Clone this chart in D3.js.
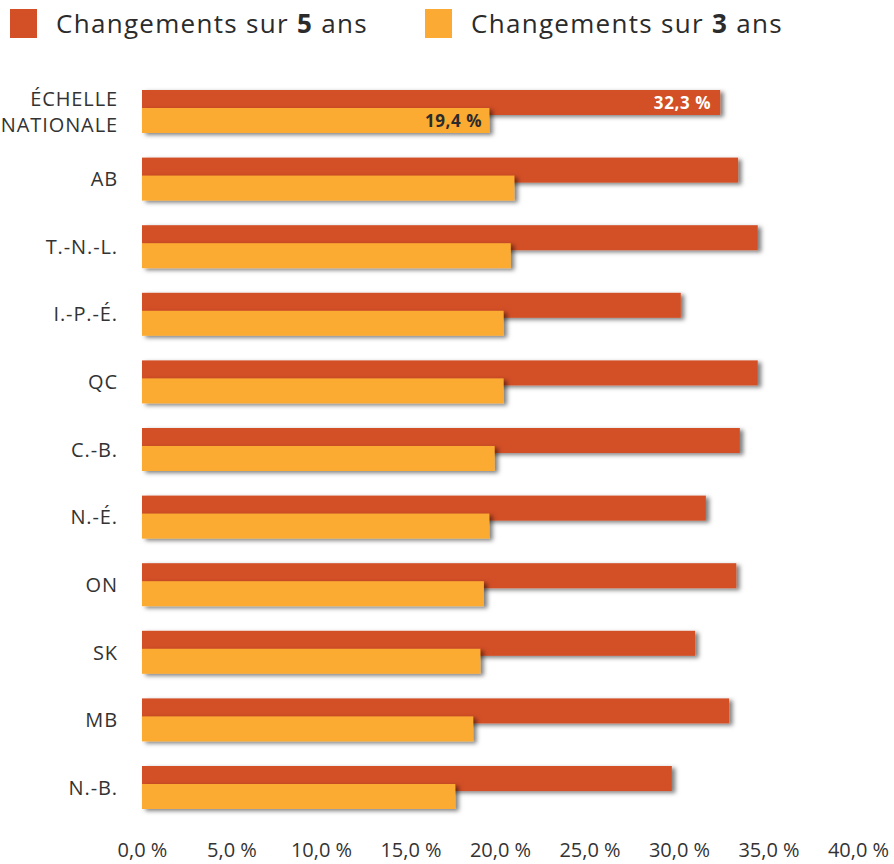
<!DOCTYPE html>
<html>
<head>
<meta charset="utf-8">
<script src="https://cdn.jsdelivr.net/npm/d3@7"></script>
<style>
  html, body { margin: 0; padding: 0; background: #fff; }
  svg { display: block; font-family: "Open Sans", sans-serif; }
</style>
</head>
<body>
<svg id="chart" width="894" height="864"></svg>
<script>
// --- data ---
const categories = ["ÉCHELLE NATIONALE", "AB", "T.-N.-L.", "I.-P.-É.", "QC", "C.-B.", "N.-É.", "ON", "SK", "MB", "N.-B."];
const change5yr = [32.3, 33.3, 34.4, 30.1, 34.4, 33.4, 31.5, 33.2, 30.9, 32.8, 29.6];
const change3yr = [19.4, 20.8, 20.6, 20.2, 20.2, 19.7, 19.4, 19.1, 18.9, 18.5, 17.5];
const tickValues = [0, 5, 10, 15, 20, 25, 30, 35, 40];
const seriesNames = [["Changements sur ", "5", " ans"], ["Changements sur ", "3", " ans"]];
const seriesColors = ["#D35027", "#FBAA33"];
const labelledCategory = "ÉCHELLE NATIONALE";

const fmt = v => d3.format(".1f")(v).replace(".", ",") + " %";

const svg = d3.select("#chart");

const defs = svg.append("defs");
defs.append("filter")
    .attr("id", "shadow")
    .attr("x", "-10%").attr("y", "-60%").attr("width", "125%").attr("height", "220%")
  .append("feDropShadow")
    .attr("dx", 3.5).attr("dy", 2)
    .attr("stdDeviation", 2.3)
    .attr("flood-color", "#000")
    .attr("flood-opacity", 0.5);

// --- scales ---
const x = d3.scaleLinear().domain([0, 40]).range([142, 858]);
const y = d3.scaleBand()
    .domain(categories)
    .range([90, 809])
    .paddingInner(0.364)
    .paddingOuter(0);

const barH = 25;
const offset = y.bandwidth() - barH;

// --- legend ---
const legend = svg.append("g");
const legendX = [10, 425];
seriesNames.forEach((parts, i) => {
  legend.append("rect")
      .attr("x", legendX[i]).attr("y", 9)
      .attr("width", 27).attr("height", 29)
      .attr("fill", seriesColors[i]);
  const t = legend.append("text")
      .attr("x", legendX[i] + 46).attr("y", 33)
      .attr("font-size", 26)
      .attr("letter-spacing", 1.3)
      .attr("fill", "#2b2b2b");
  t.append("tspan").text(parts[0]);
  t.append("tspan").attr("font-weight", 700).text(parts[1]);
  t.append("tspan").text(parts[2]);
});

// --- bars ---
const rows = categories.map((c, i) => ({ cat: c, v5: change5yr[i], v3: change3yr[i] }));

const g = svg.append("g");

rows.forEach(d => {
  const y0 = y(d.cat);
  g.append("rect")
      .attr("x", x(0)).attr("y", y0)
      .attr("width", x(d.v5) - x(0)).attr("height", barH)
      .attr("fill", seriesColors[0])
      .attr("filter", "url(#shadow)");
  g.append("rect")
      .attr("x", x(0)).attr("y", y0 + offset)
      .attr("width", x(d.v3) - x(0)).attr("height", barH)
      .attr("fill", seriesColors[1])
      .attr("filter", "url(#shadow)");

  if (d.cat === labelledCategory) {
    g.append("text")
        .attr("x", x(d.v5) - 9).attr("y", y0 + 19)
        .attr("text-anchor", "end")
        .attr("font-size", 17).attr("font-weight", 700)
        .attr("letter-spacing", 0.6)
        .attr("fill", "#fff")
        .text(fmt(d.v5));
    g.append("text")
        .attr("x", x(d.v3) - 7).attr("y", y0 + offset + 19)
        .attr("text-anchor", "end")
        .attr("font-size", 17).attr("font-weight", 700)
        .attr("letter-spacing", 0.6)
        .attr("fill", "#2b2b2b")
        .text(fmt(d.v3));
  }
});

// --- category labels ---
const labels = svg.append("g")
    .attr("font-size", 20)
    .attr("letter-spacing", 0.9)
    .attr("fill", "#333")
    .attr("text-anchor", "end");

categories.forEach(c => {
  const words = c.split(" ");
  const mid = y(c) + y.bandwidth() / 2;
  const lineH = 26;
  words.forEach((w, i) => {
    labels.append("text")
        .attr("x", 118)
        .attr("y", mid + (i - (words.length - 1) / 2) * lineH)
        .attr("dy", "0.36em")
        .text(w);
  });
});

// --- x axis ---
const axis = svg.append("g")
    .attr("transform", "translate(0,850)")
    .call(d3.axisBottom(x).tickValues(tickValues).tickSize(0).tickPadding(0).tickFormat(fmt));
axis.select(".domain").remove();
axis.selectAll("text")
    .attr("y", 0)
    .attr("dy", "0.36em")
    .attr("font-family", "Open Sans, sans-serif")
    .attr("font-size", 20)
    .attr("fill", "#333");
</script>
</body>
</html>
